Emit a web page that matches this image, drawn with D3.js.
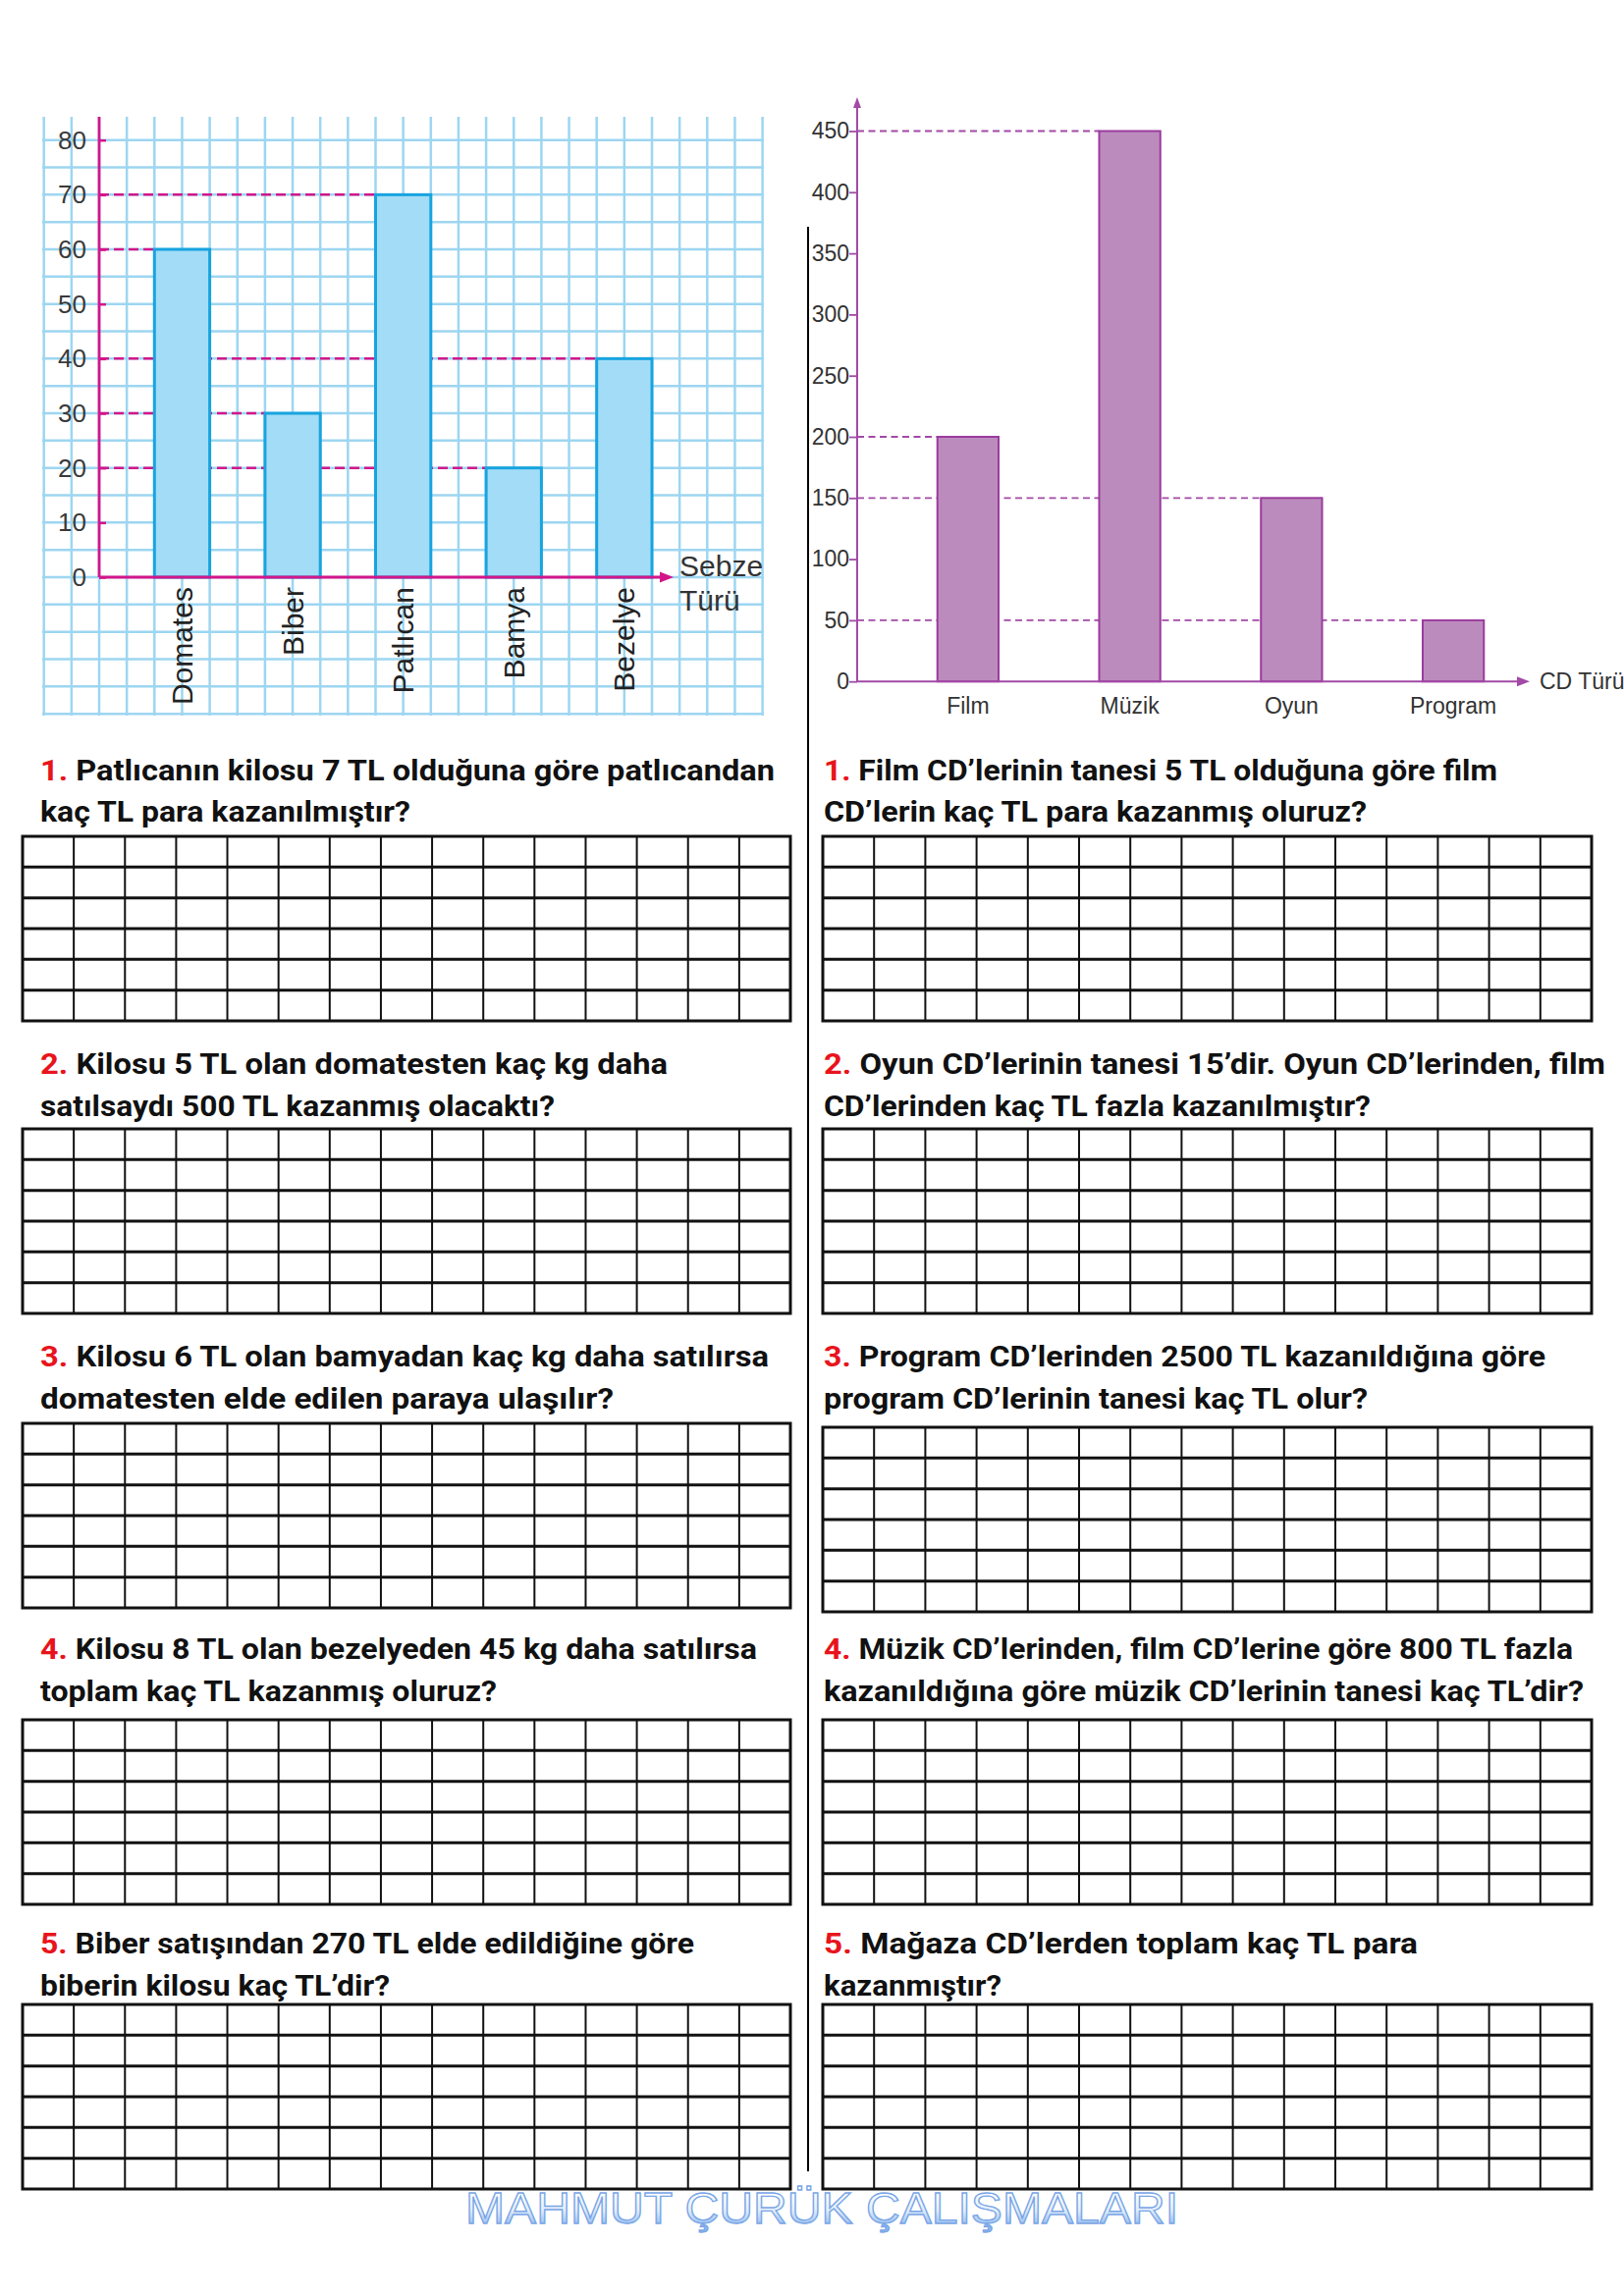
<!DOCTYPE html>
<html><head><meta charset="utf-8">
<script src="https://cdn.jsdelivr.net/npm/d3@7"></script>
<style>html,body{margin:0;padding:0;background:#fff;} svg{display:block;}</style>
</head><body><svg id="page" width="1654" height="2339"></svg>
<script>
// ---------------- DATA ----------------
const vegCategories = ["Domates", "Biber", "Patlıcan", "Bamya", "Bezelye"];
const vegValues = [60, 30, 70, 20, 40];
const vegTicks = [0, 10, 20, 30, 40, 50, 60, 70, 80];
const vegAxisTitle = ["Sebze", "Türü"];

const cdCategories = ["Film", "Müzik", "Oyun", "Program"];
const cdValues = [200, 450, 150, 50];
const cdTicks = [0, 50, 100, 150, 200, 250, 300, 350, 400, 450];
const cdAxisTitle = "CD Türü";

const leftQuestions = [
  ["1.", "Patlıcanın kilosu 7 TL olduğuna göre patlıcandan", "kaç TL para kazanılmıştır?"],
  ["2.", "Kilosu 5 TL olan domatesten kaç kg daha", "satılsaydı 500 TL kazanmış olacaktı?"],
  ["3.", "Kilosu 6 TL olan bamyadan kaç kg daha satılırsa", "domatesten elde edilen paraya ulaşılır?"],
  ["4.", "Kilosu 8 TL olan bezelyeden 45 kg daha satılırsa", "toplam kaç TL kazanmış oluruz?"],
  ["5.", "Biber satışından 270 TL elde edildiğine göre", "biberin kilosu kaç TL’dir?"]
];
const rightQuestions = [
  ["1.", "Film CD’lerinin tanesi 5 TL olduğuna göre film", "CD’lerin kaç TL para kazanmış oluruz?"],
  ["2.", "Oyun CD’lerinin tanesi 15’dir. Oyun CD’lerinden, film", "CD’lerinden kaç TL fazla kazanılmıştır?"],
  ["3.", "Program CD’lerinden 2500 TL kazanıldığına göre", "program CD’lerinin tanesi kaç TL olur?"],
  ["4.", "Müzik CD’lerinden, film CD’lerine göre 800 TL fazla", "kazanıldığına göre müzik CD’lerinin tanesi kaç TL’dir?"],
  ["5.", "Mağaza CD’lerden toplam kaç TL para", "kazanmıştır?"]
];
const watermarkText = "MAHMUT ÇURÜK ÇALIŞMALARI";

// ---------------- LAYOUT ----------------
const leftLineWidths  = [[748, 377], [639, 524], [742, 584], [730, 465], [666, 356]];
const rightLineWidths = [[686, 553], [796, 557], [735, 554], [763, 774], [605, 181]];
const line1Y = [795, 1094, 1392, 1690, 1990];
const line2Y = [837, 1137, 1435, 1733, 2033];
const leftGridTop  = [852, 1150, 1450, 1752, 2042];
const rightGridTop = [852, 1150, 1454, 1752, 2042];

const svg = d3.select("#page");
svg.append("rect").attr("width", 1654).attr("height", 2339).attr("fill", "#fff");
const defs = svg.append("defs");

// ---------------- LEFT CHART ----------------
const MAG = "#d2168a";
const L = {axisX: 101, zeroY: 588, topY: 142.7, cellX: 28.15};
const yVeg = d3.scaleLinear().domain([0, 80]).range([L.zeroY, L.topY]);
const xVeg = d3.scaleBand().domain(vegCategories)
  .range([L.axisX, L.axisX + 22 * L.cellX]).paddingInner(0.5).paddingOuter(0.5);

defs.append("clipPath").attr("id", "vegClip")
  .append("rect").attr("x", 43).attr("y", 119).attr("width", 735).attr("height", 610);

const lc = svg.append("g");
const grid = lc.append("g").attr("clip-path", "url(#vegClip)")
  .attr("stroke", "#9dd6f1").attr("stroke-width", 2.5);
grid.selectAll("line.v").data(d3.range(-3, 27)).join("line")
  .attr("x1", k => L.axisX + k * L.cellX).attr("x2", k => L.axisX + k * L.cellX)
  .attr("y1", 100).attr("y2", 740);
grid.selectAll("line.h").data(d3.range(-30, 95, 5)).join("line")
  .attr("x1", 30).attr("x2", 790)
  .attr("y1", v => yVeg(v)).attr("y2", v => yVeg(v));

const vegData = vegCategories.map((c, i) => ({c, v: vegValues[i]}));
lc.append("g").selectAll("line").data(vegData).join("line")
  .attr("x1", L.axisX).attr("x2", d => xVeg(d.c))
  .attr("y1", d => yVeg(d.v)).attr("y2", d => yVeg(d.v))
  .attr("stroke", MAG).attr("stroke-width", 2.5).attr("stroke-dasharray", "10,5");

lc.append("g").selectAll("rect").data(vegData).join("rect")
  .attr("x", d => xVeg(d.c)).attr("y", d => yVeg(d.v))
  .attr("width", xVeg.bandwidth()).attr("height", d => yVeg(0) - yVeg(d.v))
  .attr("fill", "#a3dcf6").attr("stroke", "#17a4df").attr("stroke-width", 3);

// axes
lc.append("line").attr("x1", L.axisX).attr("x2", L.axisX).attr("y1", yVeg(0)).attr("y2", 119)
  .attr("stroke", MAG).attr("stroke-width", 2.8);
lc.append("line").attr("x1", L.axisX).attr("x2", 676).attr("y1", yVeg(0)).attr("y2", yVeg(0))
  .attr("stroke", MAG).attr("stroke-width", 2.8);
lc.append("path").attr("d", `M672,${yVeg(0)-5.5} L686,${yVeg(0)} L672,${yVeg(0)+5.5} Z`).attr("fill", MAG);

const vegAxis = lc.append("g").attr("transform", `translate(${L.axisX},0)`)
  .call(d3.axisLeft(yVeg).tickValues(vegTicks).tickSize(-7).tickPadding(13));
vegAxis.select(".domain").remove();
vegAxis.selectAll(".tick line").attr("stroke", MAG).attr("stroke-width", 2.5);
vegAxis.selectAll(".tick text").attr("fill", "#3a3a3a")
  .style("font-family", "'Liberation Sans', Arial, sans-serif").style("font-size", "26px");

lc.append("g").selectAll("text").data(vegCategories).join("text")
  .attr("transform", c => `translate(${xVeg(c) + xVeg.bandwidth() / 2},598) rotate(-90)`)
  .attr("text-anchor", "end").attr("dy", "0.35em")
  .style("font-family", "'Liberation Sans', Arial, sans-serif").style("font-size", "30px")
  .attr("fill", "#222").text(c => c);

lc.append("g").selectAll("text").data(vegAxisTitle).join("text")
  .attr("x", 692).attr("y", (d, i) => 587 + i * 34.5)
  .style("font-family", "'Liberation Sans', Arial, sans-serif").style("font-size", "30px")
  .attr("fill", "#333").text(d => d);

// ---------------- RIGHT CHART ----------------
const PUR = "#a24aa6";
const R = {axisX: 873, zeroY: 694.2, topY: 133.5};
const yCd = d3.scaleLinear().domain([0, 450]).range([R.zeroY, R.topY]);
const xCd = d3.scaleBand().domain(cdCategories).range([R.axisX, 1593])
  .paddingInner(0.622).paddingOuter(0.496);
const cdData = cdCategories.map((c, i) => ({c, v: cdValues[i]}));
const rc = svg.append("g");

rc.append("g").selectAll("line").data(cdData).join("line")
  .attr("x1", R.axisX).attr("x2", d => xCd(d.c))
  .attr("y1", d => yCd(d.v)).attr("y2", d => yCd(d.v))
  .attr("stroke", PUR).attr("stroke-width", 1.8).attr("stroke-dasharray", "7,4.5");

rc.append("g").selectAll("rect").data(cdData).join("rect")
  .attr("x", d => xCd(d.c)).attr("y", d => yCd(d.v))
  .attr("width", xCd.bandwidth()).attr("height", d => yCd(0) - yCd(d.v))
  .attr("fill", "#bc8bbd").attr("stroke", "#9a3c9e").attr("stroke-width", 2);

rc.append("line").attr("x1", R.axisX).attr("x2", R.axisX).attr("y1", yCd(0)).attr("y2", 106)
  .attr("stroke", PUR).attr("stroke-width", 2);
rc.append("path").attr("d", `M${R.axisX-4},110 L${R.axisX},99 L${R.axisX+4},110 Z`).attr("fill", PUR);
rc.append("line").attr("x1", R.axisX).attr("x2", 1548).attr("y1", yCd(0)).attr("y2", yCd(0))
  .attr("stroke", PUR).attr("stroke-width", 2);
rc.append("path").attr("d", `M1545,${yCd(0)-5} L1558,${yCd(0)} L1545,${yCd(0)+5} Z`).attr("fill", PUR);

const cdAxis = rc.append("g").attr("transform", `translate(${R.axisX},0)`)
  .call(d3.axisLeft(yCd).tickValues(cdTicks).tickSize(8).tickPadding(0));
cdAxis.select(".domain").remove();
cdAxis.selectAll(".tick line").attr("stroke", PUR).attr("stroke-width", 1.8);
cdAxis.selectAll(".tick text").attr("fill", "#333")
  .style("font-family", "'Liberation Sans', Arial, sans-serif").style("font-size", "23px");

rc.append("g").selectAll("text").data(cdCategories).join("text")
  .attr("x", c => xCd(c) + xCd.bandwidth() / 2).attr("y", 727)
  .attr("text-anchor", "middle")
  .style("font-family", "'Liberation Sans', Arial, sans-serif").style("font-size", "23px")
  .attr("fill", "#333").text(c => c);
rc.append("text").attr("x", 1568).attr("y", 702)
  .style("font-family", "'Liberation Sans', Arial, sans-serif").style("font-size", "23px")
  .attr("fill", "#333").text(cdAxisTitle);

// ---------------- DIVIDER ----------------
svg.append("line").attr("x1", 823).attr("x2", 823).attr("y1", 231).attr("y2", 2212)
  .attr("stroke", "#000").attr("stroke-width", 2);

// ---------------- QUESTIONS & ANSWER GRIDS ----------------
function drawGrid(g, x0, x1, y0, h) {
  const gx = d3.scaleLinear().domain([0, 15]).range([x0, x1]);
  const gy = d3.scaleLinear().domain([0, 6]).range([y0, y0 + h]);
  g.append("g").selectAll("line").data(d3.range(1, 15)).join("line")
    .attr("x1", gx).attr("x2", gx).attr("y1", y0).attr("y2", y0 + h)
    .attr("stroke", "#111").attr("stroke-width", 2);
  g.append("g").selectAll("line").data(d3.range(1, 6)).join("line")
    .attr("x1", x0).attr("x2", x1).attr("y1", gy).attr("y2", gy)
    .attr("stroke", "#111").attr("stroke-width", 3);
  g.append("rect").attr("x", x0).attr("y", y0).attr("width", x1 - x0).attr("height", h)
    .attr("fill", "none").attr("stroke", "#111").attr("stroke-width", 3);
}
function drawColumn(qs, widths, tops, x0, gx0, gx1) {
  const g = svg.append("g");
  qs.forEach((q, i) => {
    const t1 = g.append("text").attr("x", x0).attr("y", line1Y[i])
      .attr("textLength", widths[i][0]).attr("lengthAdjust", "spacingAndGlyphs")
      .style("font-family", "Roboto, 'DejaVu Sans', sans-serif").style("font-weight", 700)
      .style("font-size", "29px").attr("fill", "#111");
    t1.append("tspan").attr("fill", "#e8141c").text(q[0] + " ");
    t1.append("tspan").text(q[1]);
    g.append("text").attr("x", x0).attr("y", line2Y[i])
      .attr("textLength", widths[i][1]).attr("lengthAdjust", "spacingAndGlyphs")
      .style("font-family", "Roboto, 'DejaVu Sans', sans-serif").style("font-weight", 700)
      .style("font-size", "29px").attr("fill", "#111").text(q[2]);
    drawGrid(g, gx0, gx1, tops[i], 188);
  });
}
drawColumn(leftQuestions, leftLineWidths, leftGridTop, 41, 23, 805);
drawColumn(rightQuestions, rightLineWidths, rightGridTop, 839, 838, 1621);

// ---------------- WATERMARK ----------------
const wg = defs.append("linearGradient").attr("id", "wmGrad")
  .attr("gradientUnits", "userSpaceOnUse").attr("x1", 0).attr("x2", 0).attr("y1", 2232).attr("y2", 2268);
wg.append("stop").attr("offset", 0).attr("stop-color", "#ffffff");
wg.append("stop").attr("offset", 0.55).attr("stop-color", "#e3eefb");
wg.append("stop").attr("offset", 1).attr("stop-color", "#8fb9ee");
svg.append("text").attr("x", 474).attr("y", 2265)
  .attr("textLength", 726).attr("lengthAdjust", "spacingAndGlyphs")
  .style("font-family", "'Liberation Sans', Arial, sans-serif").style("font-size", "44px")
  .attr("fill", "url(#wmGrad)").attr("stroke", "#79a6e6").attr("stroke-width", 1.3)
  .text(watermarkText);
</script>
</body></html>
